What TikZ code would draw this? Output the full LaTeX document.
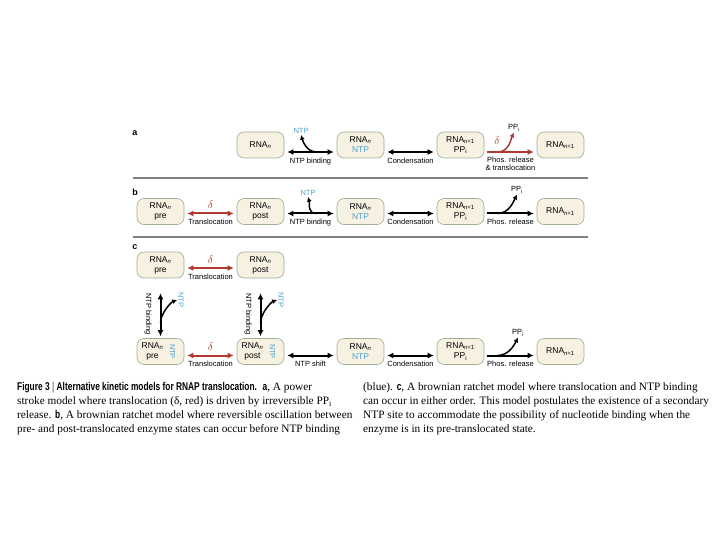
\documentclass[tikz,border=0pt]{standalone}
\usepackage{fontspec}
\setmainfont{Liberation Serif}
\setsansfont{Liberation Sans}
\newfontfamily\capsf[FakeStretch=0.74]{Liberation Sans}
\usetikzlibrary{arrows.meta,calc}
\definecolor{rnapbox}{HTML}{F7F1E1}
\definecolor{rnapline}{HTML}{9DAF95}
\definecolor{rnapred}{HTML}{B23A34}
\definecolor{rnapblue}{HTML}{4BA3D3}
\definecolor{rnapgray}{HTML}{7F7F7F}
\newcommand{\rnan}{RNA\textsubscript{\textit{n}}}
\newcommand{\rnanp}{RNA\textsubscript{\textit{n}+1}}
\newcommand{\ppi}{PP\textsubscript{i}}

\begin{document}
\begin{tikzpicture}[x=1pt,y=-1pt,
  every node/.style={font=\sffamily\fontsize{7.5}{8.5}\selectfont,inner sep=1pt},
  state/.style={draw=rnapline,line width=0.6pt,rounded corners=7pt,fill=rnapbox,minimum width=47pt,minimum height=26pt,align=center,font=\sffamily\fontsize{8.5}{10}\selectfont},
  inbox/.style={align=center,font=\sffamily\fontsize{8.5}{10}\selectfont},
  ntp/.style={text=rnapblue},
  dlt/.style={text=rnapred,font=\fontsize{11}{11}\selectfont},
  dbl/.style={{Latex[length=6pt,width=6pt]}-{Latex[length=6pt,width=6pt]},line width=2pt,shorten <=3pt,shorten >=3pt},
  fwd/.style={-{Latex[length=6pt,width=6pt]},line width=2pt,shorten <=3pt,shorten >=3pt},
  branch/.style={-{Latex[length=5pt,width=5pt]},line width=1.5pt},
  tag/.style={font=\sffamily\bfseries\fontsize{9}{10}\selectfont},
  capt/.style={font=\rmfamily\fontsize{11.3}{14}\selectfont,align=left,anchor=north west,inner sep=0pt}
]
\useasboundingbox (0,0) rectangle (720,540);

% a: power stroke
\node[tag] (taga) at (135,133) {a};
\node[state] (a1) at (260.5,145) {\rnan};
\node[state] (a2) at (360.5,145) {\rnan\\\textcolor{rnapblue}{NTP}};
\node[state] (a3) at (460.5,145) {\rnanp\\\ppi};
\node[state] (a4) at (560.5,145) {\rnanp};
\draw[dbl] ([yshift=-7pt]a1.east) -- node[below=4pt] (binda) {NTP binding} ([yshift=-7pt]a2.west);
\node[ntp] (ntpa) at (301,131) {NTP};
\draw[branch] ($(a1.east)!.62!(a2.west)+(0,7)$) .. controls +(-10,0) and +(2,7) .. (ntpa.south);
\draw[dbl] ([yshift=-7pt]a2.east) -- node[below=4pt] (conda) {Condensation} ([yshift=-7pt]a3.west);
\draw[fwd,rnapred] ([yshift=-7pt]a3.east) -- node[below=3pt,align=center,text=black] (phosa) {Phos. release\\\& translocation} ([yshift=-7pt]a4.west);
\node[dlt] (dela) at (497,141) {$\delta$};
\node (ppa) at (514,128) {\ppi};
\draw[branch,rnapred] ($(a3.east)!.25!(a4.west)+(0,7)$) .. controls +(12,0) and +(-3,6) .. (ppa.south);
\draw[rnapgray,line width=2.5pt] (133,178) -- (588,178);

% b: brownian ratchet
\node[tag] (tagb) at (135,192) {b};
\node[state] (b1) at (160.5,211.5) {\rnan\\pre};
\node[state] (b2) at (260.5,211.5) {\rnan\\post};
\node[state] (b3) at (360.5,211.5) {\rnan\\\textcolor{rnapblue}{NTP}};
\node[state] (b4) at (460.5,211.5) {\rnanp\\\ppi};
\node[state] (b5) at (560.5,211.5) {\rnanp};
\draw[dbl,rnapred] ([yshift=-2pt]b1.east) -- node[below=4pt,text=black] (transb) {Translocation} node[above=3pt,dlt] (delb) {$\delta$} ([yshift=-2pt]b2.west);
\draw[dbl] ([yshift=-2pt]b2.east) -- node[below=4pt] (bindb) {NTP binding} ([yshift=-2pt]b3.west);
\node[ntp] (ntpb) at (308,193) {NTP};
\draw[branch] ($(b2.east)!.62!(b3.west)+(0,2)$) .. controls +(-10,0) and +(2,7) .. (ntpb.south);
\draw[dbl] ([yshift=-2pt]b3.east) -- node[below=4pt] (condb) {Condensation} ([yshift=-2pt]b4.west);
\draw[fwd] ([yshift=-2pt]b4.east) -- node[below=4pt] (phosb) {Phos. release} ([yshift=-2pt]b5.west);
\node (ppb) at (517,190) {\ppi};
\draw[branch] ($(b4.east)!.25!(b5.west)+(0,2)$) .. controls +(12,0) and +(-3,6) .. (ppb.south);
\draw[rnapgray,line width=1.2pt] (133,237) -- (588,237);

% c: either order
\node[tag] (tagc) at (135,247) {c};
\node[state] (c1) at (160.5,265) {\rnan\\pre};
\node[state] (c2) at (260.5,265) {\rnan\\post};
\draw[dbl,rnapred] ([yshift=-3pt]c1.east) -- node[below=4pt,text=black] (transc) {Translocation} node[above=3pt,dlt] (delc) {$\delta$} ([yshift=-3pt]c2.west);

\node[state] (c3) at (160.5,351.5) {};
\node[inbox] (c3t) at ([xshift=-8pt]c3.center) {\rnan\\pre};
\node[ntp,rotate=-90] (c3n) at ([xshift=12pt]c3.center) {NTP};
\node[state] (c4) at (260.5,351.5) {};
\node[inbox] (c4t) at ([xshift=-8pt]c4.center) {\rnan\\post};
\node[ntp,rotate=-90] (c4n) at ([xshift=12pt]c4.center) {NTP};
\node[state] (c5) at (360.5,351.5) {\rnan\\\textcolor{rnapblue}{NTP}};
\node[state] (c6) at (460.5,351.5) {\rnanp\\\ppi};
\node[state] (c7) at (560.5,351.5) {\rnanp};

\draw[dbl,shorten <=15pt,shorten >=2pt] (c1.south) -- (c3.north);
\node[rotate=-90] (bindc1) at (148,314) {NTP binding};
\node[ntp,rotate=-90] (ntpc1) at (181,300) {NTP};
\draw[branch] ($(c1.south)!.75!(c3.north)$) .. controls +(0,-10) and +(-6,2) .. (ntpc1.south);
\draw[dbl,shorten <=15pt,shorten >=2pt] (c2.south) -- (c4.north);
\node[rotate=-90] (bindc2) at (248,314) {NTP binding};
\node[ntp,rotate=-90] (ntpc2) at (281,300) {NTP};
\draw[branch] ($(c2.south)!.75!(c4.north)$) .. controls +(0,-10) and +(-6,2) .. (ntpc2.south);

\draw[dbl,rnapred] ([yshift=-4pt]c3.east) -- node[below=4pt,text=black] (transd) {Translocation} node[above=3pt,dlt] (deld) {$\delta$} ([yshift=-4pt]c4.west);
\draw[dbl] ([yshift=-4pt]c4.east) -- node[below=4pt] (shiftc) {NTP shift} ([yshift=-4pt]c5.west);
\draw[dbl] ([yshift=-4pt]c5.east) -- node[below=4pt] (condc) {Condensation} ([yshift=-4pt]c6.west);
\draw[fwd] ([yshift=-4pt]c6.east) -- node[below=4pt] (phosc) {Phos. release} ([yshift=-4pt]c7.west);
\node (ppc) at (518,333) {\ppi};
\draw[branch] ($(c6.east)!.25!(c7.west)+(0,4)$) .. controls +(12,0) and +(-3,6) .. (ppc.south);

% caption
\node[capt] (capl) at (17,382) {{\capsf\bfseries Figure 3 \textcolor{rnapgray}{|} Alternative kinetic models for RNAP translocation.}\ \ {\capsf\bfseries a}, A power\\
stroke model where translocation (δ, red) is driven by irreversible \ppi\\
release. {\capsf\bfseries b}, A brownian ratchet model where reversible oscillation between\\
pre- and post-translocated enzyme states can occur before NTP binding};
\node[capt] (capr) at (363,382) {(blue). {\capsf\bfseries c}, A brownian ratchet model where translocation and NTP binding\\
can occur in either order. This model postulates the existence of a secondary\\
NTP site to accommodate the possibility of nucleotide binding when the\\
enzyme is in its pre-translocated state.};
\end{tikzpicture}
\end{document}
